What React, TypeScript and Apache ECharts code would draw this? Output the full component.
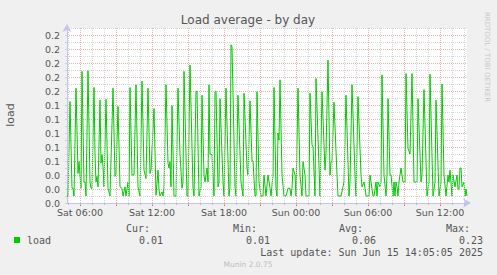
import React, { useEffect, useRef } from 'react';
import * as echarts from 'echarts';

// minutes since Sat 00:00, 5-minute samples (peaks and turning points)
const sampleMinutes = [
  295, 300, 310, 320, 325, 330, 340, 350, 355, 360, 365, 370, 380, 385, 390, 400, 410, 415, 420, 430,
  435, 440, 445, 450, 460, 465, 470, 475, 480, 490, 500, 510, 525, 535, 540, 550, 560, 570, 575, 585,
  590, 600, 605, 610, 620, 630, 640, 650, 660, 670, 680, 690, 700, 710, 715, 730, 740, 750, 755, 760,
  770, 775, 780, 790, 800, 805, 810, 815, 820, 830, 840, 850, 860, 870, 875, 880, 895, 900, 910, 925,
  930, 940, 945, 955, 965, 970, 980, 985, 995, 1000, 1005, 1010, 1020, 1030, 1035, 1040, 1050, 1055, 1060, 1075,
  1080, 1090, 1105, 1110, 1115, 1120, 1135, 1140, 1150, 1165, 1175, 1180, 1195, 1200, 1210, 1220, 1225, 1235, 1240, 1245,
  1255, 1265, 1275, 1280, 1290, 1300, 1310, 1315, 1325, 1330, 1340, 1345, 1350, 1355, 1360, 1370, 1380, 1390, 1400, 1410,
  1415, 1420, 1425, 1435, 1440, 1450, 1460, 1470, 1475, 1485, 1490, 1505, 1510, 1520, 1525, 1535, 1540, 1560, 1570, 1585,
  1590, 1600, 1610, 1615, 1620, 1630, 1645, 1650, 1665, 1680, 1690, 1705, 1710, 1720, 1735, 1740, 1750, 1765, 1770, 1780,
  1785, 1790, 1805, 1810, 1815, 1825, 1830, 1840, 1845, 1850, 1860, 1865, 1870, 1880, 1890, 1895, 1900, 1910, 1915, 1925,
  1930, 1935, 1940, 1945, 1950, 1955, 1965, 1970, 1975, 1985, 1990, 2000, 2010, 2020, 2030, 2045, 2050, 2065, 2070, 2080,
  2095, 2105, 2110, 2125, 2135, 2140, 2155, 2165, 2170, 2180, 2190, 2200, 2205, 2210, 2220, 2225, 2235, 2245, 2250, 2255,
  2260, 2265, 2270, 2280, 2285, 2290, 2295,
];

const loadValues = [
  0.010, 0.010, 0.145, 0.021, 0.021, 0.010, 0.164, 0.042, 0.059, 0.040, 0.021, 0.188, 0.030, 0.030, 0.010, 0.189, 0.030, 0.021, 0.021, 0.165,
  0.070, 0.030, 0.038, 0.023, 0.147, 0.057, 0.069, 0.052, 0.023, 0.148, 0.021, 0.010, 0.164, 0.038, 0.040, 0.138, 0.023, 0.021, 0.010, 0.023,
  0.010, 0.030, 0.010, 0.165, 0.040, 0.040, 0.169, 0.023, 0.010, 0.174, 0.047, 0.035, 0.164, 0.042, 0.047, 0.135, 0.011, 0.047, 0.019, 0.010,
  0.016, 0.010, 0.021, 0.169, 0.057, 0.050, 0.059, 0.023, 0.139, 0.010, 0.010, 0.164, 0.069, 0.021, 0.030, 0.188, 0.010, 0.010, 0.197, 0.021,
  0.010, 0.159, 0.160, 0.010, 0.023, 0.154, 0.040, 0.030, 0.050, 0.030, 0.169, 0.070, 0.069, 0.010, 0.159, 0.160, 0.023, 0.030, 0.149, 0.030,
  0.010, 0.164, 0.010, 0.023, 0.226, 0.223, 0.023, 0.010, 0.154, 0.030, 0.010, 0.157, 0.050, 0.040, 0.146, 0.060, 0.060, 0.010, 0.010, 0.159,
  0.030, 0.010, 0.010, 0.040, 0.010, 0.040, 0.021, 0.010, 0.040, 0.165, 0.021, 0.010, 0.100, 0.090, 0.176, 0.040, 0.010, 0.010, 0.021, 0.021,
  0.010, 0.021, 0.050, 0.040, 0.010, 0.164, 0.040, 0.010, 0.059, 0.040, 0.010, 0.010, 0.157, 0.083, 0.080, 0.010, 0.178, 0.010, 0.159, 0.047,
  0.071, 0.204, 0.040, 0.059, 0.059, 0.144, 0.040, 0.010, 0.010, 0.030, 0.154, 0.010, 0.030, 0.169, 0.040, 0.010, 0.152, 0.040, 0.023, 0.030,
  0.021, 0.010, 0.010, 0.040, 0.030, 0.010, 0.010, 0.030, 0.010, 0.030, 0.023, 0.030, 0.183, 0.040, 0.010, 0.040, 0.149, 0.040, 0.040, 0.010,
  0.030, 0.010, 0.030, 0.023, 0.010, 0.030, 0.050, 0.040, 0.030, 0.030, 0.185, 0.078, 0.070, 0.185, 0.030, 0.030, 0.149, 0.030, 0.040, 0.162,
  0.010, 0.030, 0.184, 0.010, 0.030, 0.147, 0.010, 0.030, 0.170, 0.040, 0.010, 0.040, 0.030, 0.047, 0.010, 0.040, 0.023, 0.040, 0.020, 0.020,
  0.050, 0.050, 0.023, 0.030, 0.010, 0.020, 0.010,
];

const seriesName = 'load';
const titleText = 'Load average - by day';
const yAxisTitle = 'load';
const dayNames = ['Sat', 'Sun'];
const statNames = ['Cur:', 'Min:', 'Avg:', 'Max:'];
const statValues = ['0.01', '0.01', '0.06', '0.23'];
const lastUpdateText = 'Last update: Sun Jun 15 14:05:05 2025';
const footerText = 'Munin 2.0.75';
const watermarkText = 'RRDTOOL / TOBI OETIKER';

const X_MIN = 295;
const X_MAX = 2295;

const GREEN = '#00cc00';
const PINK = '#e8b0b0';
const GRAY = '#d6d6d6';
const AXIS = '#c4c4f0';
const TEXT = '#555555';

function rangeValues(step: number) {
  const out: number[] = [];
  for (let v = Math.ceil(X_MIN / step) * step; v <= X_MAX; v += step) out.push(v);
  return out;
}

function timeLabel(v: number) {
  const d = dayNames[Math.floor(v / 1440)] || '';
  const h = Math.floor((v % 1440) / 60);
  return `${d} ${String(h).padStart(2, '0')}:00`;
}

export default function App() {
  const ref = useRef<HTMLDivElement>(null);

  useEffect(() => {
    if (!ref.current) return;
    const chart = echarts.init(ref.current, null, { renderer: 'svg' });
    const hours = rangeValues(60);
    const threeHours = rangeValues(180);
    const sixHours = rangeValues(360);
    const data = sampleMinutes.map((m, i) => [m, loadValues[i]]);

    const statNameX = [150, 257, 363, 470];
    const statValX = [163, 270, 376, 483];
    const mono = '10px "DejaVu Sans Mono"';

    const graphics: any[] = [
      {
        type: 'text', x: 248, y: 20,
        style: { text: titleText, font: '12px "DejaVu Sans"', fill: TEXT, textAlign: 'center', textVerticalAlign: 'middle' },
      },
      {
        type: 'text', x: 10, y: 115, rotation: Math.PI / 2,
        style: { text: yAxisTitle, font: '11px "DejaVu Sans"', fill: TEXT, textAlign: 'center', textVerticalAlign: 'middle' },
      },
      {
        type: 'text', x: 487, y: 57, rotation: -Math.PI / 2,
        style: { text: watermarkText, font: '7px "DejaVu Sans"', fill: '#c8c8c8', textAlign: 'center', textVerticalAlign: 'middle' },
      },
      { type: 'rect', shape: { x: 14, y: 237, width: 6, height: 6 }, style: { fill: GREEN } },
      {
        type: 'text', x: 27, y: 240,
        style: { text: seriesName, font: mono, fill: TEXT, textAlign: 'left', textVerticalAlign: 'middle' },
      },
      {
        type: 'text', x: 483, y: 252,
        style: { text: lastUpdateText, font: mono, fill: TEXT, textAlign: 'right', textVerticalAlign: 'middle' },
      },
      {
        type: 'text', x: 248, y: 264,
        style: { text: footerText, font: '7.5px "DejaVu Sans"', fill: '#bdbdbd', textAlign: 'center', textVerticalAlign: 'middle' },
      },
    ];
    statNames.forEach((n, i) => {
      graphics.push({
        type: 'text', x: statNameX[i], y: 228,
        style: { text: n, font: mono, fill: TEXT, textAlign: 'right', textVerticalAlign: 'middle' },
      });
      graphics.push({
        type: 'text', x: statValX[i], y: 240,
        style: { text: statValues[i], font: mono, fill: TEXT, textAlign: 'right', textVerticalAlign: 'middle' },
      });
    });

    chart.setOption({
      animation: false,
      backgroundColor: '#f0f0f0',
      grid: { left: 67, right: 30, top: 28, bottom: 72, show: true, backgroundColor: '#ffffff', borderWidth: 0 },
      xAxis: [
        {
          type: 'value', min: X_MIN, max: X_MAX,
          axisLine: { show: true, lineStyle: { color: AXIS, width: 1 }, symbol: ['none', 'arrow'], symbolSize: [7, 8], symbolOffset: [0, 4] },
          axisTick: { show: true, customValues: threeHours, length: 3, lineStyle: { color: '#e06060' } },
          axisLabel: {
            show: true, customValues: sixHours, formatter: (v: number) => timeLabel(v),
            color: TEXT, fontFamily: 'DejaVu Sans', fontSize: 9.5, margin: 4,
          },
          splitLine: { show: false },
        },
        {
          type: 'value', min: X_MIN, max: X_MAX, position: 'bottom',
          axisLine: { show: false },
          axisTick: { show: true, customValues: hours, length: 2, lineStyle: { color: '#bbbbbb' } },
          axisLabel: { show: false },
          splitLine: { show: false },
        },
      ],
      yAxis: {
        type: 'value', min: 0, max: 0.25, interval: 0.01,
        axisLine: { show: true, lineStyle: { color: AXIS, width: 1 }, symbol: ['none', 'arrow'], symbolSize: [7, 8], symbolOffset: [0, 4] },
        axisTick: { show: true, length: 2, lineStyle: { color: '#d0d0d0' } },
        axisLabel: {
          color: TEXT, fontFamily: 'DejaVu Sans', fontSize: 9.5, margin: 7,
          formatter: (v: number) => {
            const k = Math.round(v * 100);
            if (k % 2 !== 0 || k > 24) return '';
            return (k / 100).toFixed(1);
          },
        },
        splitLine: { show: true, lineStyle: { color: [PINK, GRAY], type: [1, 1], width: 1 } },
      },
      series: [
        {
          type: 'line', name: 'grid', z: 1, data: [], silent: true,
          markLine: {
            silent: true, symbol: ['none', 'none'], label: { show: false }, animation: false,
            data: hours.map((h) => ({
              xAxis: h,
              lineStyle: { color: h % 180 === 0 ? PINK : GRAY, type: [1, 1], width: 1 },
            })),
          },
        },
        {
          type: 'line', name: seriesName, z: 3, data, showSymbol: false, symbol: 'none',
          lineStyle: { color: GREEN, width: 1 }, itemStyle: { color: GREEN },
        },
      ],
      graphic: graphics,
    });
    return () => chart.dispose();
  }, []);

  return <div ref={ref} style={{ position: 'fixed', left: 0, top: 0, width: 497, height: 275 }} />;
}
